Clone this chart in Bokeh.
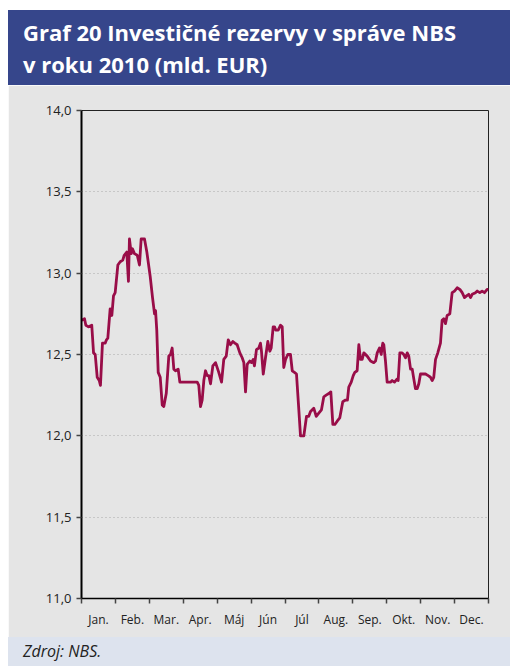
from bokeh.plotting import figure
from bokeh.layouts import column, row
from bokeh.models import (FixedTicker, CustomJSTickFormatter, Spacer, Div, ColumnDataSource)
from bokeh.embed import file_html
from bokeh.resources import INLINE

title_line1 = "Graf 20 Investičné rezervy v správe NBS"
title_line2 = "v roku 2010 (mld. EUR)"
source_text = "Zdroj: NBS."

months = ["Jan.", "Feb.", "Mar.", "Apr.", "Máj", "Jún", "Júl", "Aug.", "Sep.", "Okt.", "Nov.", "Dec."]
y_ticks = [11.0, 11.5, 12.0, 12.5, 13.0, 13.5, 14.0]

# day of year (approx.) and value in bn EUR
days = [0, 2.7, 3.9, 6.3, 9.2, 10.8, 12.3, 14.1, 15.9, 17.0, 18.8, 21.3, 22.4, 23.6, 25.7, 27.2,
        28.7, 30.2, 32.6, 34.7, 37.0, 38.3, 40.6, 42.1, 43.0, 44.6, 45.7, 47.5, 50.0, 52.0, 53.5,
        56.5, 58.6, 61.6, 63.7, 65.5, 66.4, 67.5, 68.8, 70.6, 72.4, 73.8, 76.0, 78.3, 79.8, 81.3,
        82.8, 84.3, 86.7, 88.2, 93.3, 97.8, 103.8, 105.2, 106.7, 108.2, 109.7, 111.2, 112.7, 114.2,
        115.7, 117.8, 120.2, 123.1, 125.6, 127.6, 129.8, 131.6, 133.6, 135.7, 137.5, 139.6, 142.0,
        144.1, 145.6, 147.1, 148.6, 150.9, 152.5, 154.0, 155.1, 156.9, 159.0, 160.5, 161.4, 163.0,
        165.0, 167.1, 168.9, 170.1, 171.9, 173.1, 174.2, 176.4, 178.5, 180.0, 181.4, 183.0, 185.0,
        187.4, 189.0, 191.0, 192.8, 194.9, 196.4, 199.4, 201.8, 203.8, 205.4, 208.3, 210.5, 212.8,
        215.2, 217.3, 219.4, 221.8, 223.6, 225.4, 227.2, 229.3, 231.6, 234.3, 236.8, 238.5, 239.7,
        241.9, 243.7, 245.1, 247.2, 248.7, 250.2, 251.7, 253.2, 256.2, 259.2, 262.1, 263.7, 265.2,
        267.2, 268.8, 269.7, 270.2, 271.1, 272.6, 274.1, 277.1, 278.6, 280.7, 283.1, 284.0, 285.5,
        287.6, 289.0, 290.6, 292.1, 293.5, 295.1, 296.6, 298.0, 299.5, 301.1, 302.5, 304.0, 306.4,
        308.5, 310.9, 313.0, 314.5, 315.9, 317.5, 319.5, 321.9, 323.4, 324.9, 326.4, 327.9, 330.3,
        332.4, 334.5, 336.9, 339.3, 341.4, 343.5, 345.3, 347.3, 348.9, 350.4, 353.3, 354.9, 357.2,
        359.3, 361.4, 363.8, 365.0]
values = [12.71, 12.72, 12.68, 12.67, 12.68, 12.51, 12.50, 12.36, 12.34, 12.31, 12.57, 12.57, 12.59,
          12.60, 12.78, 12.74, 12.86, 12.88, 13.05, 13.07, 13.08, 13.11, 13.13, 12.95, 13.21, 13.12,
          13.15, 13.12, 13.11, 13.05, 13.21, 13.21, 13.13, 12.98, 12.85, 12.75, 12.77, 12.65, 12.39,
          12.36, 12.19, 12.18, 12.26, 12.49, 12.50, 12.54, 12.41, 12.40, 12.41, 12.33, 12.33, 12.33,
          12.33, 12.31, 12.18, 12.22, 12.34, 12.40, 12.37, 12.37, 12.32, 12.43, 12.45, 12.39, 12.33,
          12.47, 12.49, 12.59, 12.56, 12.58, 12.57, 12.56, 12.51, 12.48, 12.45, 12.27, 12.44, 12.46,
          12.45, 12.47, 12.43, 12.53, 12.54, 12.57, 12.52, 12.38, 12.48, 12.58, 12.52, 12.54, 12.67,
          12.67, 12.65, 12.65, 12.68, 12.67, 12.42, 12.47, 12.50, 12.50, 12.40, 12.39, 12.38, 12.16,
          12.00, 12.00, 12.12, 12.12, 12.15, 12.17, 12.12, 12.14, 12.16, 12.24, 12.25, 12.26, 12.27,
          12.07, 12.07, 12.09, 12.11, 12.21, 12.22, 12.22, 12.30, 12.33, 12.37, 12.39, 12.40, 12.56,
          12.47, 12.47, 12.51, 12.49, 12.46, 12.45, 12.46, 12.51, 12.54, 12.50, 12.55, 12.57, 12.56,
          12.46, 12.33, 12.33, 12.34, 12.33, 12.35, 12.34, 12.51, 12.51, 12.50, 12.48, 12.51, 12.49,
          12.41, 12.41, 12.35, 12.29, 12.29, 12.32, 12.38, 12.38, 12.38, 12.37, 12.36, 12.34, 12.36,
          12.47, 12.51, 12.57, 12.71, 12.72, 12.69, 12.74, 12.75, 12.88, 12.89, 12.91, 12.90, 12.88,
          12.85, 12.86, 12.87, 12.85, 12.87, 12.88, 12.89, 12.88, 12.89, 12.88, 12.90, 12.90]

# position on an axis where every month has equal width
pos = [d * 12 / 365 for d in days]
src = ColumnDataSource(dict(x=pos, y=values))

GRAY = "#e5e5e5"
BLUE = "#36468b"
FOOT = "#dde3ee"
LINE = "#990d48"
FONT = "Open Sans"
W = 502

title_div = Div(
    text=('<div style="box-sizing:border-box;width:502px;height:75px;margin:0;'
          'padding:6px 0 0 15px;background:%s;color:white;font-family:\'Open Sans\';'
          'font-weight:bold;font-size:22px;line-height:32px;white-space:nowrap;overflow:hidden">'
          '%s<br>%s</div>') % (BLUE, title_line1, title_line2),
    width=W, height=75, margin=0)

foot_div = Div(
    text=('<div style="box-sizing:border-box;width:502px;height:29px;margin:0;'
          'padding:0 0 0 15px;background:%s;color:#222222;font-family:\'Open Sans\';'
          'font-style:italic;font-size:16px;line-height:29px;white-space:nowrap;overflow:hidden">'
          '%s</div>') % (FOOT, source_text),
    width=W, height=29, margin=0)

# chart
p = figure(width=W, height=552, x_range=(0, 12), y_range=(11, 14),
           output_backend="svg", toolbar_location=None,
           min_border_left=73, min_border_right=22, min_border_top=25, min_border_bottom=39)
p.border_fill_color = GRAY
p.background_fill_color = GRAY
p.outline_line_color = "#222222"
p.outline_line_width = 1

p.line("x", "y", source=src, line_color=LINE, line_width=2.8, line_join="round")

p.xgrid.visible = False
p.ygrid.ticker = FixedTicker(ticks=[11.5, 12.0, 12.5, 13.0, 13.5])
p.ygrid.grid_line_color = "#a8a8a8"
p.ygrid.grid_line_dash = "1 3"
p.ygrid.grid_line_width = 1

ya = p.yaxis[0]
ya.ticker = FixedTicker(ticks=y_ticks)
ya.formatter = CustomJSTickFormatter(code="return tick.toFixed(1).replace('.', ',');")
ya.axis_line_color = "black"
ya.axis_line_width = 2
ya.major_tick_in = 0
ya.major_tick_out = 5
ya.major_tick_line_color = "#444444"
ya.major_tick_line_width = 1.5
ya.minor_tick_line_color = None
ya.major_label_text_font = FONT
ya.major_label_text_font_size = "13px"
ya.major_label_text_color = "#222222"
ya.major_label_standoff = 5

xa = p.xaxis[0]
xa.ticker = FixedTicker(ticks=[i + 0.5 for i in range(12)], minor_ticks=list(range(13)))
xa.formatter = CustomJSTickFormatter(args=dict(names=months),
                                     code="return names[Math.floor(tick)];")
xa.axis_line_color = "black"
xa.axis_line_width = 1.5
xa.major_tick_line_color = None
xa.major_tick_in = 0
xa.major_tick_out = 0
xa.minor_tick_in = 0
xa.minor_tick_out = 5
xa.minor_tick_line_color = "#444444"
xa.minor_tick_line_width = 1.5
xa.major_label_text_font = FONT
xa.major_label_text_font_size = "12px"
xa.major_label_text_color = "#222222"
xa.major_label_standoff = 7

layout = column(Spacer(height=10, width=510, margin=0),
                row(Spacer(width=8, height=656, margin=0),
                    column(title_div, p, foot_div, spacing=0, margin=0),
                    spacing=0, margin=0),
                spacing=0, margin=0)

open("out.html", "w").write(file_html(layout, INLINE))
